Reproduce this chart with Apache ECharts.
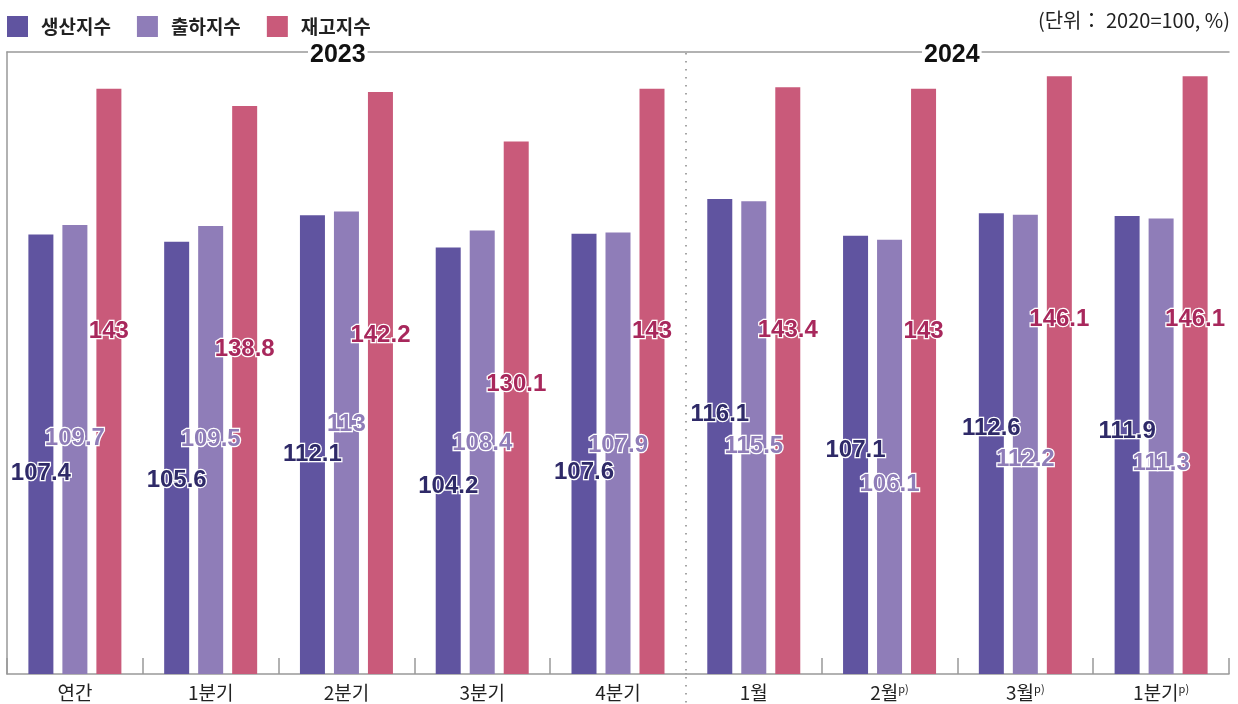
<!DOCTYPE html>
<html>
<head>
<meta charset="utf-8">
<script src="https://cdn.jsdelivr.net/npm/echarts@6/dist/echarts.min.js"></script>
<style>
  html, body { margin: 0; padding: 0; background: #fff; }
  #chart { width: 1238px; height: 704px; }
</style>
</head>
<body>
<div id="chart"></div>
<script>
const categories = ['연간', '1분기', '2분기', '3분기', '4분기', '1월', '2월{sup|p)}', '3월{sup|p)}', '1분기{sup|p)}']
const production = [107.4, 105.6, 112.1, 104.2, 107.6, 116.1, 107.1, 112.6, 111.9]
const shipment = [109.7, 109.5, 113, 108.4, 107.9, 115.5, 106.1, 112.2, 111.3]
const inventory = [143, 138.8, 142.2, 130.1, 143, 143.4, 143, 146.1, 146.1]
const seriesNames = ['생산지수', '출하지수', '재고지수']

const colors = ['#6054a0', '#8f7db8', '#c95a7a']
const labelColors = ['#2f2a68', '#8f7db8', '#a8285c']
// label drop below bar top (2023 group, 2024 group)
const labelDrop = [[239, 215], [213, 245], [243, 243]]

const chart = echarts.init(document.getElementById('chart'))

const makeSeries = (values, i) => ({
  name: seriesNames[i],
  type: 'bar',
  barWidth: 25,
  barGap: '36%',
  itemStyle: { color: colors[i] },
  data: values.map((v, idx) => ({
    value: v,
    label: { position: ['50%', labelDrop[i][idx < 5 ? 0 : 1]] }
  })),
  label: {
    show: true,
    align: 'center',
    verticalAlign: 'middle',
    fontFamily: 'Liberation Sans, Arial, sans-serif',
    fontSize: 24,
    fontWeight: 'bold',
    color: labelColors[i],
    textBorderColor: '#fff',
    textBorderWidth: 2.5
  }
})

const yearTitle = (text, left) => ({
  text, left, top: 43,
  padding: [0, 2],
  backgroundColor: '#fff',
  textStyle: { fontSize: 25, fontWeight: 'bold', color: '#111', fontFamily: 'Liberation Sans, Arial, sans-serif' }
})

const option = {
  animation: false,
  textStyle: { fontFamily: 'Noto Sans CJK KR, sans-serif' },
  legend: {
    left: 2,
    top: 11,
    itemWidth: 21,
    itemHeight: 21,
    itemGap: 26,
    icon: 'rect',
    textStyle: { fontSize: 19, fontWeight: 'bold', color: '#222', padding: [0, 0, 0, 8] },
    data: seriesNames
  },
  title: [
    yearTitle('2023', 308),
    yearTitle('2024', 922),
    {
      text: '(단위： 2020=100, %)', right: 8, top: 10,
      padding: 0,
      textStyle: { fontSize: 20, fontWeight: 'normal', color: '#222' }
    }
  ],
  grid: { left: 7, right: 9, top: 52, bottom: 30, containLabel: false },
  xAxis: [
    {
      type: 'category',
      data: categories,
      axisLine: { show: true, lineStyle: { color: '#999', width: 1.5 } },
      axisTick: {
        show: true,
        inside: true,
        length: 16,
        interval: 0,
        lineStyle: { color: '#999', width: 1.5 }
      },
      axisLabel: {
        interval: 0,
        margin: 9,
        fontSize: 19,
        color: '#222',
        rich: { sup: { fontSize: 11, verticalAlign: 'top', color: '#222', padding: [0, 0, 8, 0] } }
      }
    },
    {
      type: 'category',
      position: 'top',
      data: categories,
      axisLine: { show: true, lineStyle: { color: '#999', width: 1.5 } },
      axisTick: { show: false },
      axisLabel: { show: false }
    }
  ],
  yAxis: {
    type: 'value',
    min: 0,
    max: 152,
    axisLine: { show: true, lineStyle: { color: '#999', width: 1.5 } },
    axisTick: { show: false },
    axisLabel: { show: false },
    splitLine: { show: false }
  },
  series: [production, shipment, inventory].map(makeSeries)
}

chart.setOption(option)

// dotted divider between 2023 and 2024 groups (covers the solid tick there)
const x4 = chart.convertToPixel({ xAxisIndex: 0 }, 4)
const x5 = chart.convertToPixel({ xAxisIndex: 0 }, 5)
const xMid = Math.round((x4 + x5) / 2)
const yBase = chart.convertToPixel({ yAxisIndex: 0 }, 0)
chart.setOption({
  graphic: [
    {
      type: 'line',
      shape: { x1: xMid, y1: yBase - 18, x2: xMid, y2: yBase - 1 },
      style: { stroke: '#fff', lineWidth: 3 },
      z: 9
    },
    {
      type: 'line',
      shape: { x1: xMid, y1: 53, x2: xMid, y2: 704 },
      style: { stroke: '#888', lineWidth: 1.5, lineDash: [1.5, 6.5] },
      z: 10
    }
  ]
})

window.addEventListener('resize', () => chart.resize())
</script>
</body>
</html>
